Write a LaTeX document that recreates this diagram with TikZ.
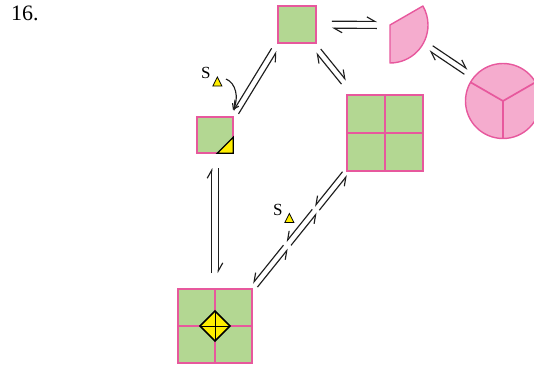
\documentclass[tikz,border=0pt]{standalone}
\usepackage{fontspec}
\setmainfont{Liberation Serif}
\usetikzlibrary{calc,arrows.meta}
\definecolor{sqgreen}{RGB}{179,215,146}
\definecolor{pinkline}{RGB}{231,88,157}
\definecolor{pinkfill}{RGB}{245,172,206}
\definecolor{triyellow}{RGB}{255,238,0}
\definecolor{arrowgray}{RGB}{30,30,30}
\tikzset{
  sq/.style={rectangle, draw=pinkline, fill=sqgreen, line width=1.6pt, inner sep=0pt, outer sep=0pt, minimum size=#1},
  divline/.style={draw=pinkline, line width=1.7pt},
  eqline/.style={draw=arrowgray, line width=1.15pt},
  tri/.style={draw=black, fill=triyellow, line width=0.8pt, line join=miter},
  lbl/.style={font=\fontsize{17}{17}\selectfont, anchor=base west, inner sep=0pt},
}
\newcommand\eqpair[7]{%
  \path ($(#1)!#3!(#2)$) coordinate (eqA) ($(#1)!#4!(#2)$) coordinate (eqB);
  \draw[eqline,-{Straight Barb[#7,length=8pt,width=9pt]}] ($(eqA)!#5!90:(eqB)$) -- ($(eqB)!#5!-90:(eqA)$);
  \draw[eqline,-{Straight Barb[#7,length=8pt,width=9pt]}] ($(eqB)!#6!-90:(eqA)$) -- ($(eqA)!#6!90:(eqB)$);
}
\begin{document}
\begin{tikzpicture}[x=1pt,y=-1pt]
\useasboundingbox (0,0) rectangle (534,370);
\node[anchor=base west, font=\fontsize{22}{22}\selectfont, inner sep=0pt] (num) at (11,20.5) {16.};

% squares
\node[sq=37.5pt] (top) at (297,24.5) {};
\node[sq=36.5pt] (small) at (215,135) {};
\draw[fill=triyellow, line width=1.3pt, line join=miter] (small.south east) -- ++(-16,0) -- ++(16,-16) -- cycle;
\node[sq=76.5pt] (four) at (385,133) {};
\node[sq=74.5pt] (bot) at (215,326) {};
\draw[divline] (bot.north) -- (bot.south);
\draw[divline] (bot.west) -- (bot.east);
\draw[fill=triyellow, line width=1.5pt, line join=miter] ($(bot)+(-15,0)$) -- ($(bot)+(0,-15)$) -- ($(bot)+(15,0)$) -- ($(bot)+(0,15)$) -- cycle;
\draw[line width=1pt] ($(bot)+(-15,0)$) -- ($(bot)+(15,0)$) ($(bot)+(0,-15)$) -- ($(bot)+(0,15)$);

% sector and circle
\coordinate (sec) at (390,25);
\draw[draw=pinkline, fill=pinkfill, line width=1.4pt, line join=round] (sec) -- ++(0,38) arc[start angle=90, end angle=-30, radius=38] -- cycle;
\node[circle, draw=pinkline, fill=pinkfill, line width=1.4pt, minimum size=75pt, inner sep=0pt, outer sep=0pt] (circ) at (503,101) {};
\draw[divline] (circ.center) -- (circ.150) (circ.center) -- (circ.30) (circ.center) -- (circ.270);

% equilibrium arrows
\eqpair{top}{sec}{0.376}{0.86}{3.5pt}{-3.5pt}{left}
\eqpair{sec}{circ}{0.345}{0.655}{6.6pt}{0.6pt}{left}
\eqpair{top}{four}{0.243}{0.532}{3pt}{-3pt}{left}
\eqpair{top.south west}{small.north east}{0.09}{0.94}{-3pt}{3pt}{right}
\eqpair{small}{bot}{0.173}{0.7225}{3.3pt}{-3.3pt}{left}
\eqpair{four.south west}{bot.north east}{0.02}{0.315}{-3pt}{3pt}{right}
\eqpair{four.south west}{bot.north east}{0.34}{0.615}{-3pt}{3pt}{right}
\eqpair{four.south west}{bot.north east}{0.645}{0.97}{-3pt}{3pt}{right}

% dividers of the four-square block
\draw[divline] (four.north) -- (four.south);
\draw[divline] (four.west) -- (four.east);

% labels
\node[lbl] (s1) at (201,78) {S};
\draw[tri] ($(s1.base east)+(2,8)$) -- ++(9,0) -- ++(-4.5,-9) -- cycle;
\node[lbl] (s2) at (273,215) {S};
\draw[tri] ($(s2.base east)+(2,7.5)$) -- ++(9,0) -- ++(-4.5,-9) -- cycle;

% curved arrow
\coordinate (cs) at (226,79);
\coordinate (ce) at (233,110);
\draw[eqline,-{Straight Barb[length=5pt,width=7pt]}] (cs) .. controls (236,83) and (239,98) .. (ce);
\end{tikzpicture}
\end{document}
